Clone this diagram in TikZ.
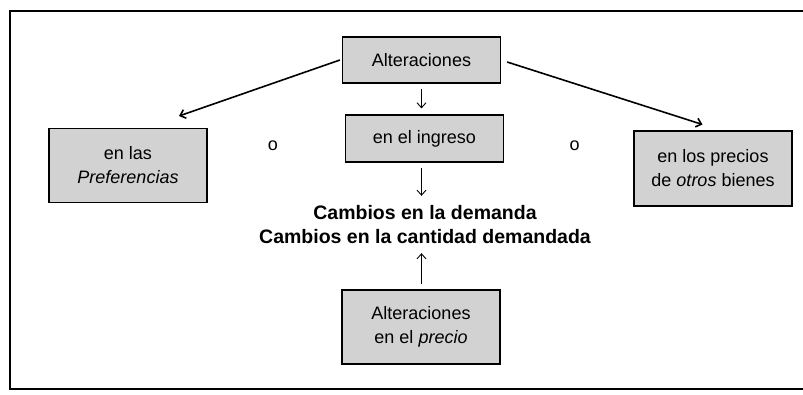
\documentclass[tikz,border=0pt]{standalone}
\usepackage{fontspec}
\setmainfont{Liberation Sans}
\usetikzlibrary{positioning, arrows.meta}
\tikzset {
    ->,
    >={Straight Barb[length=5pt, width=9pt]},
    x=1pt, y=-1pt,
    box/.style={draw, line width=1.2pt, fill=gray!35, minimum width=158pt,
        inner sep=0pt, align=center, font=\fontsize{18}{24}\selectfont},
    thin arrow/.style={line width=0.9pt, shorten <=5pt, shorten >=6pt},
    thick arrow/.style={line width=1.6pt}
}

\begin{document}
\begin{tikzpicture}
                \useasboundingbox (0,0) rectangle (803,394);
                \draw[-, line width=1.6pt] (803,11) -- (10,11) -- (10,389) -- (803,389);

                \node[box, minimum height=46pt] (alt) at (421.5,60) {Alteraciones};
                \node[box, minimum height=47pt] (ingreso) at (424.5,138.5) {en el ingreso};
                \node[box, minimum height=74pt] (pref) at (128,165.5) {en las\\\textit{Preferencias}};
                \node[box, minimum height=75pt] (otros) at (713,168.5) {en los precios\\de \textit{otros} bienes};
                \node[box, minimum height=74pt] (precio) at (421,327) {Alteraciones\\en el \textit{precio}};
                \node[align=center, font=\bfseries\fontsize{19.5}{24}\selectfont] (cambios) at (425,224.5)
                    {Cambios en la demanda\\Cambios en la cantidad demandada};
                \node[font=\fontsize{18}{24}\selectfont] (o1) at (273,146) {o};
                \node[font=\fontsize{18}{24}\selectfont] (o2) at (574.5,146) {o};

                \coordinate (prefend) at (179,116);
                \coordinate (otrosend) at (702.5,124.5);

                \draw[thick arrow] ([xshift=-2pt]alt.west) -- (prefend);
                \draw[thick arrow] ([xshift=6pt, yshift=-2pt]alt.east) -- (otrosend);
                \draw[thin arrow] (alt.south) -- (alt.south |- ingreso.north);
                \draw[thin arrow] (alt.south |- ingreso.south) -- (alt.south |- cambios.north);
                \draw[thin arrow] (alt.south |- precio.north) -- (alt.south |- cambios.south);
            \end{tikzpicture}
\end{document}
